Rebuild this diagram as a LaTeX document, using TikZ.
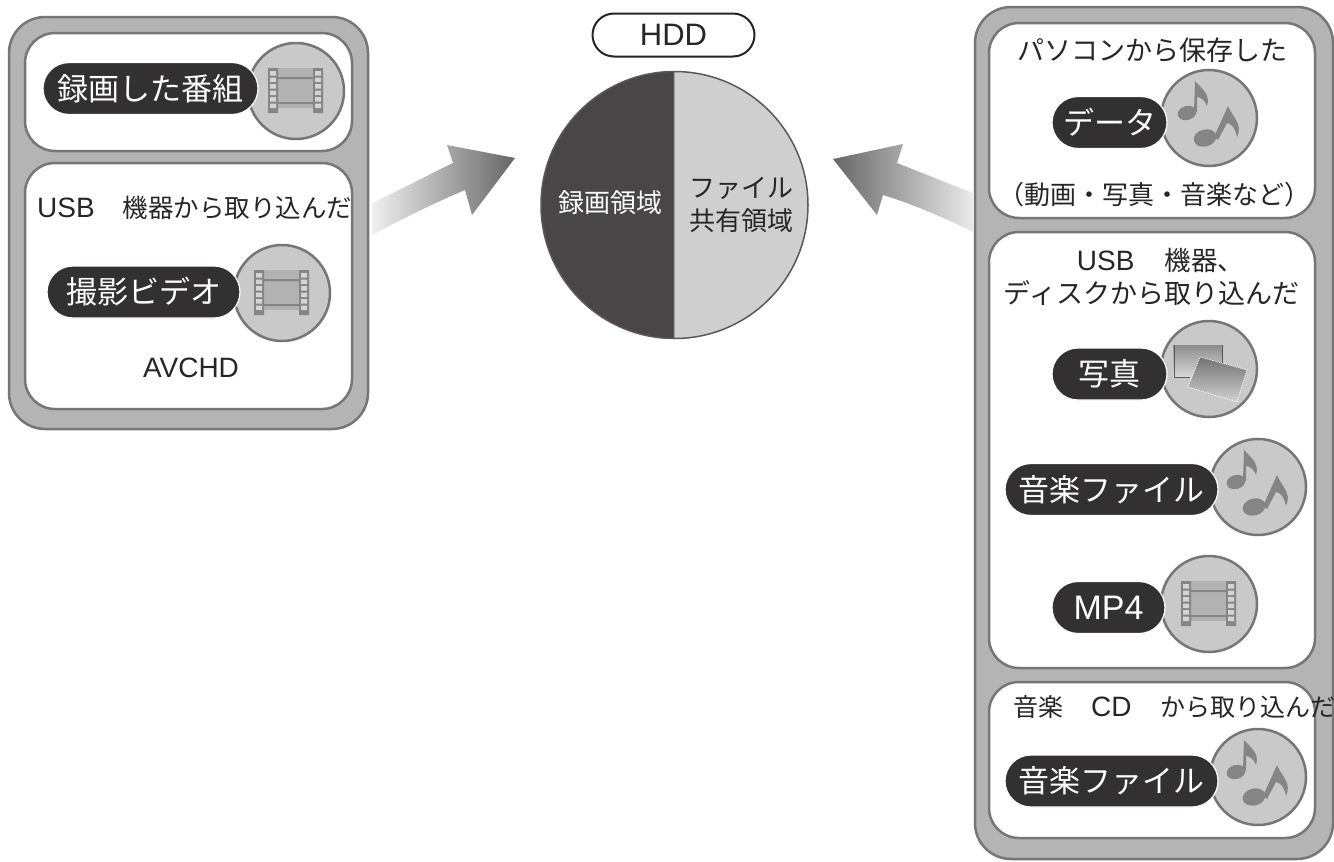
\documentclass[tikz,border=0pt]{standalone}
\usepackage{fontspec}
\setmainfont{Noto Sans CJK JP}
\newfontfamily\lat{Liberation Sans}
\usetikzlibrary{shapes.misc}
\definecolor{panelgray}{HTML}{B4B4B4}
\definecolor{edgegray}{HTML}{767676}
\definecolor{circgray}{HTML}{C9C9C9}
\definecolor{icongray}{HTML}{858585}
\definecolor{pilldark}{HTML}{333031}
\definecolor{piedark}{HTML}{4A4648}
\definecolor{pielight}{HTML}{CFCFCF}
\definecolor{inktext}{HTML}{262626}
\newcommand{\fs}[1]{\fontsize{#1}{#1}\selectfont}
\tikzset{
  x=1pt,y=-1pt,
  outerpanel/.style={fill=panelgray,draw=edgegray,line width=2.5pt,rounded corners=36pt},
  innerpanel/.style={fill=white,draw=edgegray,line width=2.5pt,rounded corners=30pt},
  badge/.style={fill=circgray,draw=edgegray,line width=2.5pt,circle,inner sep=0pt,minimum size=96pt},
  pill/.style={rounded rectangle,fill=pilldark,draw=white,line width=1.2pt,text=white,inner sep=0pt,minimum height=52pt,font=\fs{31}},
  lbl/.style={inner sep=0pt,text=inktext,font=\fs{26}},
  filmicon/.pic={
    \fill[fill=black!30] (-18,-23) rectangle (17,17);
    \fill[icongray] (-28,-23) rectangle (-18,22) (17,-23) rectangle (27,22);
    \foreach \yy in {-20,-13.5,-7,-0.5,6,12.5}{
      \fill[circgray!80] (-26,\yy) rectangle (-20,\yy+4.5) (19,\yy) rectangle (25,\yy+4.5);
    }
    \fill[icongray] (-18,-14) rectangle (17,-12) (-18,11) rectangle (17,13);
  },
  notesicon/.pic={
    \fill[icongray,shift={(-22,-5)},rotate=15] (0,0) ellipse[x radius=9.5,y radius=7];
    \fill[icongray] (-15,-7) -- (-14,-37) .. controls (-8,-30) and (2,-24) .. (-2,-12) .. controls (-4,-18) and (-9,-21) .. (-12,-21) -- (-12,-6) -- cycle;
    \fill[icongray,shift={(-4,20)},rotate=15] (0,0) ellipse[x radius=11.5,y radius=8.5];
    \fill[icongray] (5,19) -- (19,-12) .. controls (24,0) and (34,6) .. (28,19) .. controls (26,10) and (23,6) .. (18,5) -- (9,22) -- cycle;
  },
  photoicon/.pic={
    \shade[top color=black!45,bottom color=black!15] (-36,-24) rectangle (14,8);
    \draw[black!65,line width=1pt] (-35,-24) -- (-35,8) -- (-19,8);
    \draw[black!65,line width=1pt] (13,-24) -- (13,-6);
    \shade[left color=black!55,right color=black!18,shading angle=0] (-9,-12) -- (38,1) -- (28,33) -- (-21,18) -- cycle;
    \draw[white,densely dotted,line width=.8pt] (-9,-12) -- (38,1) -- (28,33) -- (-21,18) -- cycle;
  }
}
\begin{document}
\begin{tikzpicture}
\useasboundingbox (0,0) rectangle (1334,862);
\fill[white] (0,0) rectangle (1334,862);

% arrows
\shade[left color=black!6,right color=black!60]
  (372,203) .. controls (400,190) and (430,174) .. (453,163) -- (447,145) -- (515,158) -- (472,215) -- (465,190)
  .. controls (430,205) and (400,220) .. (372,235) -- cycle;
\shade[left color=black!60,right color=black!8]
  (833,159) -- (903,144) -- (897,163) .. controls (920,172) and (950,184) .. (973,193) -- (973,232)
  .. controls (945,218) and (915,205) .. (883,195) -- (877,215) -- cycle;

% left panel
\draw[outerpanel] (9,17) rectangle (368,429);
\draw[innerpanel] (25,33) rectangle (352,151);
\draw[innerpanel] (25,163) rectangle (352,409);
\node[badge] (cA) at (296,91) {};
\pic at (cA.center) {filmicon};
\node[pill,minimum width=215pt] (pA) at (150.5,88.5) {録画した番組};
\node[lbl,anchor=west] (tA) at (37,208) {{\lat\fs{28}USB}\hspace{28pt}\fs{25.5}機器から取り込んだ};
\node[badge] (cB) at (282,293) {};
\pic at (cB.center) {filmicon};
\node[pill,minimum width=193pt] (pB) at (143.5,292) {撮影ビデオ};
\node[lbl,font=\lat\fs{28}] (tB) at (191,368) {AVCHD};

% HDD
\node[rounded rectangle,draw=inktext,line width=2pt,fill=white,minimum width=162pt,minimum height=43pt,inner sep=0pt,font=\lat\fs{31},text=inktext] (hdd) at (673.5,35) {HDD};
\fill[piedark] (674.5,71.5) arc[start angle=-90,end angle=-270,radius=133.5] -- cycle;
\fill[pielight] (674.5,71.5) arc[start angle=-90,end angle=90,radius=133.5] -- cycle;
\draw[black!65,line width=1.5pt] (674.5,205) circle[radius=133.5];
\draw[black!65,line width=1.5pt] (673.5,71.5) -- (673.5,338.5);
\node[lbl,text=white] (rec) at (610,203) {録画領域};
\node[lbl,align=center] (share) at (741,205) {ファイル\\[7pt]共有領域};

% right panel
\draw[outerpanel] (975,7) rectangle (1333,859);
\draw[innerpanel] (989,23) rectangle (1315,218);
\draw[innerpanel] (989,232) rectangle (1315,668);
\draw[innerpanel] (989,682) rectangle (1315,838);

\node[lbl,font=\fs{27}] (t1) at (1152,50) {パソコンから保存した};
\node[badge] (c1) at (1209,118) {};
\pic at (c1.center) {notesicon};
\node[pill,minimum width=115pt] (p1) at (1109.5,122.5) {データ};
\node[lbl,font=\fs{26}] (t2) at (1154,195) {（動画・写真・音楽など）};

\node[lbl] (t3) at (1160.5,260) {{\lat\fs{28}USB}\hspace{30pt}\fs{26.5}機器、};
\node[lbl,font=\fs{27}] (t4) at (1151.5,293) {ディスクから取り込んだ};
\node[badge] (c2) at (1209,369) {};
\pic at (c2.center) {photoicon};
\node[pill,minimum width=115pt] (p2) at (1109.5,374) {写真};
\node[badge] (c3) at (1258,487) {};
\pic at (c3.center) {notesicon};
\node[pill,minimum width=213pt] (p3) at (1111.5,489.5) {音楽ファイル};
\node[badge] (c4) at (1209,604) {};
\pic at (c4.center) {filmicon};
\node[pill,minimum width=113pt,font=\lat\fs{34}] (p4) at (1108.5,607.5) {MP4};

\node[lbl,anchor=west] (t5) at (1013,707) {\fs{25}音楽\hspace{28pt}{\lat\fs{28}CD}\hspace{29pt}\fs{25}から取り込んだ};
\node[badge] (c5) at (1258,777) {};
\pic at (c5.center) {notesicon};
\node[pill,minimum width=213pt] (p5) at (1111.5,781) {音楽ファイル};
\end{tikzpicture}
\end{document}
